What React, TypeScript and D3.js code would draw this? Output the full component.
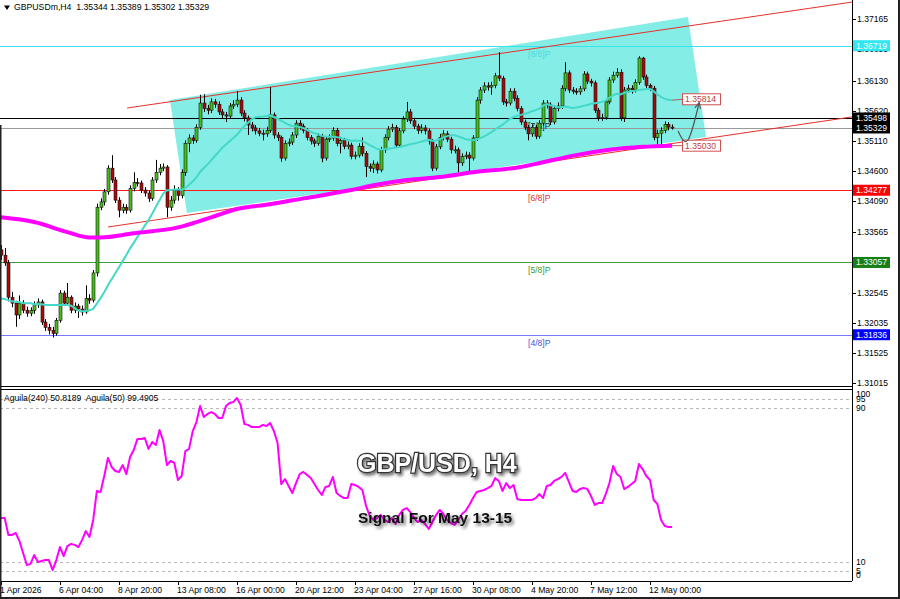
import React from 'react';
import * as d3 from 'd3';

// ---------- DATA ----------
const firstOpen = 1.3327;
const closes = [
  1.3318,1.3305,1.3247,1.3237,1.3217,1.3237,1.3225,1.3220,1.3225,1.3234,
  1.3239,1.3205,1.3196,1.3191,1.3186,1.3208,1.3254,1.3237,1.3247,1.3225,
  1.3232,1.3227,1.3222,1.3245,1.3242,1.3288,1.3399,1.3408,1.3425,1.3465,
  1.3445,1.3411,1.3394,1.3399,1.3394,1.3431,1.3441,1.3440,1.3428,1.3423,
  1.3414,1.3445,1.3458,1.3465,1.3467,1.3399,1.3411,1.3428,1.3419,1.3458,
  1.3507,1.3516,1.3512,1.3534,1.3575,1.3566,1.3563,1.3577,1.3573,1.3560,
  1.3555,1.3553,1.3570,1.3573,1.3580,1.3558,1.3550,1.3538,1.3533,1.3528,
  1.3524,1.3523,1.3529,1.3555,1.3521,1.3517,1.3482,1.3507,1.3509,1.3521,
  1.3541,1.3536,1.3529,1.3517,1.3511,1.3507,1.3519,1.3482,1.3514,1.3516,
  1.3529,1.3507,1.3512,1.3502,1.3504,1.3485,1.3487,1.3502,1.3490,1.3468,
  1.3465,1.3472,1.3462,1.3496,1.3517,1.3531,1.3534,1.3504,1.3528,1.3548,
  1.3560,1.3545,1.3536,1.3529,1.3533,1.3528,1.3511,1.3465,1.3501,1.3517,
  1.3523,1.3514,1.3496,1.3496,1.3474,1.3485,1.3487,1.3482,1.3516,1.3580,
  1.3597,1.3604,1.3602,1.3605,1.3621,1.3617,1.3577,1.3575,1.3595,1.3583,
  1.3566,1.3543,1.3534,1.3523,1.3534,1.3519,1.3541,1.3575,1.3572,1.3543,
  1.3566,1.3570,1.3600,1.3626,1.3597,1.3595,1.3594,1.3599,1.3624,1.3612,
  1.3609,1.3563,1.3550,1.3551,1.3577,1.3614,1.3622,1.3627,1.3550,1.3597,
  1.3600,1.3597,1.3610,1.3651,1.3619,1.3605,1.3600,1.3517,1.3524,1.3529,
  1.3539,1.35344,1.35329
];
const highs = [
  1.3335,1.3330,1.3310,1.3256,1.3241,1.3250,1.3242,1.3231,1.3230,1.3240,
  1.3245,1.3243,1.3210,1.3202,1.3197,1.3212,1.3259,1.3258,1.3271,1.3250,
  1.3238,1.3236,1.3233,1.3267,1.3252,1.3293,1.3405,1.3414,1.3430,1.3470,
  1.3487,1.3450,1.3416,1.3405,1.3404,1.3436,1.3458,1.3448,1.3444,1.3433,
  1.3428,1.3450,1.3479,1.3472,1.3473,1.3470,1.3418,1.3436,1.3433,1.3463,
  1.3512,1.3522,1.3521,1.3539,1.3589,1.3590,1.3572,1.3583,1.3582,1.3578,
  1.3565,1.3560,1.3575,1.3580,1.3595,1.3585,1.3563,1.3554,1.3543,1.3538,
  1.3533,1.3530,1.3535,1.3602,1.3559,1.3526,1.3520,1.3512,1.3515,1.3526,
  1.3546,1.3546,1.3540,1.3533,1.3521,1.3515,1.3524,1.3523,1.3519,1.3522,
  1.3534,1.3533,1.3518,1.3516,1.3510,1.3508,1.3493,1.3507,1.3517,1.3494,
  1.3473,1.3478,1.3476,1.3501,1.3522,1.3536,1.3540,1.3538,1.3533,1.3553,
  1.3577,1.3565,1.3550,1.3540,1.3539,1.3538,1.3532,1.3514,1.3506,1.3523,
  1.3529,1.3528,1.3518,1.3503,1.3500,1.3490,1.3493,1.3492,1.3521,1.3585,
  1.3602,1.3610,1.3610,1.3611,1.3626,1.3661,1.3621,1.3582,1.3600,1.3600,
  1.3588,1.3570,1.3547,1.3538,1.3539,1.3538,1.3546,1.3580,1.3580,1.3576,
  1.3571,1.3576,1.3605,1.3644,1.3630,1.3602,1.3600,1.3604,1.3629,1.3628,
  1.3616,1.3613,1.3567,1.3557,1.3582,1.3619,1.3628,1.3634,1.3632,1.3602,
  1.3606,1.3605,1.3615,1.3654,1.3653,1.3623,1.3608,1.3604,1.3530,1.3534,
  1.3544,1.3543,1.35389
];
const lows = [
  1.3310,1.3300,1.3240,1.3230,1.3197,1.3210,1.3220,1.3214,1.3215,1.3219,
  1.3229,1.3200,1.3190,1.3184,1.3179,1.3182,1.3204,1.3232,1.3233,1.3220,
  1.3220,1.3212,1.3216,1.3219,1.3236,1.3238,1.3282,1.3394,1.3402,1.3420,
  1.3440,1.3406,1.3382,1.3389,1.3388,1.3390,1.3426,1.3434,1.3423,1.3417,
  1.3408,1.3410,1.3440,1.3453,1.3460,1.3382,1.3393,1.3405,1.3410,1.3414,
  1.3452,1.3492,1.3506,1.3508,1.3530,1.3560,1.3556,1.3558,1.3567,1.3555,
  1.3549,1.3543,1.3549,1.3565,1.3568,1.3553,1.3544,1.3521,1.3527,1.3522,
  1.3519,1.3512,1.3518,1.3525,1.3515,1.3511,1.3476,1.3478,1.3502,1.3504,
  1.3516,1.3530,1.3524,1.3512,1.3505,1.3501,1.3503,1.3475,1.3478,1.3509,
  1.3511,1.3502,1.3490,1.3497,1.3497,1.3480,1.3480,1.3483,1.3485,1.3450,
  1.3459,1.3457,1.3456,1.3458,1.3491,1.3512,1.3526,1.3499,1.3500,1.3524,
  1.3543,1.3540,1.3531,1.3523,1.3524,1.3522,1.3505,1.3460,1.3461,1.3497,
  1.3512,1.3509,1.3490,1.3490,1.3458,1.3469,1.3480,1.3457,1.3478,1.3511,
  1.3574,1.3592,1.3596,1.3589,1.3600,1.3612,1.3572,1.3569,1.3571,1.3578,
  1.3561,1.3538,1.3529,1.3512,1.3518,1.3514,1.3515,1.3537,1.3566,1.3538,
  1.3539,1.3561,1.3565,1.3595,1.3592,1.3590,1.3589,1.3589,1.3595,1.3607,
  1.3603,1.3558,1.3545,1.3545,1.3547,1.3573,1.3609,1.3618,1.3545,1.3543,
  1.3592,1.3591,1.3593,1.3606,1.3614,1.3600,1.3595,1.3512,1.3501,1.3501,
  1.3524,1.3529,1.35302
];
// 20-period average values for the first bars (before 20 closes exist)
const fastMaHead = [
  1.3245,1.3244,1.3242,1.3240,1.3239,1.3239,1.3237,1.3237,1.3237,1.3235,
  1.3235,1.3235,1.3234,1.3234,1.3234,1.3234,1.3234,1.3234,1.3234
];
const fastMaPeriod = 20;
// long moving average (magenta), read at selected bars
const slowMaBars = [0,9,18,24,27,36,48,57,64,73,82,95,101,110,119,128,141,147,156,165,174,182];
const slowMaValues = [1.3382,1.3374,1.3357,1.3348,1.3348,1.3355,1.3365,1.3382,1.3396,1.3404,1.3414,1.3428,1.3436,1.3445,1.3450,1.3458,1.3467,1.3475,1.3487,1.3496,1.3501,1.3503];
// Aguila oscillator (magenta line in lower pane)
const aguila = [
  32.8,32.8,24.0,24.0,25.0,20.8,14.6,8.3,8.9,13.5,
  9.9,10.4,10.9,10.9,5.7,10.9,17.7,13.0,18.2,19.3,
  18.8,17.7,21.4,26.0,22.9,31.8,46.9,46.4,54.7,64.1,
  59.4,57.3,56.8,60.4,55.7,64.6,68.2,74.0,74.0,74.5,
  68.8,72.4,70.8,78.6,72.9,60.4,62.5,61.5,52.6,54.7,
  67.7,68.8,78.1,82.8,91.1,85.4,87.0,88.0,87.0,84.9,
  84.9,91.1,92.7,93.2,95.3,91.7,81.8,81.3,80.2,80.2,
  80.2,81.3,80.7,82.3,78.1,71.9,50.5,53.1,49.5,45.8,
  51.0,55.7,56.8,55.2,53.6,50.5,47.4,44.8,49.0,49.5,
  54.2,45.8,44.3,43.2,43.2,50.5,50.0,49.0,47.4,39.1,
  33.9,31.8,32.8,34.4,31.8,30.7,32.8,29.7,34.4,37.0,
  38.0,35.9,32.8,30.7,31.8,29.7,27.1,30.7,34.4,37.0,
  34.9,31.8,30.2,29.2,31.8,34.9,36.5,39.6,43.2,46.4,
  46.9,47.4,48.4,49.5,53.6,52.1,46.9,51.0,48.4,50.0,
  42.7,42.2,42.2,42.2,42.2,43.2,45.3,43.2,49.5,50.0,
  52.1,53.1,54.2,56.3,51.6,46.9,46.4,47.9,48.4,47.9,
  44.3,39.6,40.6,40.6,45.3,51.0,59.9,55.7,54.2,47.9,
  49.0,50.5,52.1,60.9,58.3,54.7,52.6,42.2,40.1,31.8,
  28.6,28.1,28.1
];
const priceTicks = [1.37165,1.36655,1.36130,1.35620,1.35110,1.34600,1.34090,1.33565,1.33055,1.32545,1.32035,1.31525,1.31015];
const dateTickBars = [0,16,32,48,64,80,96,112,128,144,160,176];
const dateLabels = ['1 Apr 2026','6 Apr 04:00','8 Apr 20:00','13 Apr 08:00','16 Apr 00:00','20 Apr 12:00','23 Apr 04:00','27 Apr 16:00','30 Apr 08:00','4 May 20:00','7 May 12:00','12 May 00:00'];
const murreyLevels = [1.36719,1.35498,1.34277,1.33057,1.31836];
const murreyNames = ['[8/8]P','[7/8]P','[6/8]P','[5/8]P','[4/8]P'];
const bidPrice = 1.35329;
const maLabelValues = [1.35814, 1.35030];
const channelBox = [{bar:45.8,price:1.35802},{bar:186.3,price:1.37204},{bar:191.2,price:1.35176},{bar:50.4,price:1.33892}];
const upperChannel = [{bar:34.2,price:1.35666},{bar:186.0,price:1.37048}];
const lowerChannel = [{bar:29.0,price:1.33656},{bar:191.2,price:1.35151}];
const arrowPath = [{bar:183.6,price:1.35278},{bar:186.3,price:1.35126},{bar:189.3,price:1.35751}];
const indLevels = [95,90,10,5];
const indLabels = [100,95,90,10,5,0];
const header = 'GBPUSDm,H4  1.35344 1.35389 1.35302 1.35329';
const indTitle = 'Aguila(240) 50.8189  Aguila(50) 99.4905';

// ---------- LAYOUT ----------
const W = 900, H = 599;
const PR = 852; // plot right edge
const MAIN_B = 386, SUB_T = 389, SUB_B = 581;
const FONT = '"Liberation Sans", Arial, sans-serif';

const murreyLine = ['#38E4EC','#000000','#FF1A1A','#3A9C3A','#7878FF'];
const murreyText = ['#4FD8DE','#222222','#E03030','#3A9C3A','#5050E0'];
const murreyBox = ['#30E6F0','#000000','#FF0000','#168016','#0000FF'];

export default function App() {
  const x = d3.scaleLinear().domain([0, 176]).range([1, 650]);
  const y = d3.scaleLinear().domain([1.30970, 1.37491]).range([MAIN_B, 0]);
  const yi = d3.scaleLinear().domain([0, 100]).range([SUB_B, SUB_T]);

  const opens = closes.map((c, i) => (i === 0 ? firstOpen : closes[i - 1]));
  const fastMa = closes.map((c, i) =>
    i < fastMaPeriod - 1 ? fastMaHead[i] : (d3.mean(closes.slice(i - fastMaPeriod + 1, i + 1)) as number)
  );

  const fastLine = d3.line<number>().x((d, i) => x(i)).y(d => y(d))(fastMa) || '';
  const slowLine = d3.line<number>().x((d, i) => x(slowMaBars[i])).y(d => y(d)).curve(d3.curveMonotoneX)(slowMaValues) || '';
  const indLine = d3.line<number>().x((d, i) => x(i)).y(d => yi(d))(aguila) || '';
  const boxPts = channelBox.map(p => `${x(p.bar)},${y(p.price)}`).join(' ');
  const arrowD = d3.line<{bar:number;price:number}>().x(d => x(d.bar)).y(d => y(d.price)).curve(d3.curveNatural)(arrowPath) || '';

  const ray = (pts: {bar:number;price:number}[]) => {
    const [a, b] = pts;
    const endBar = x.invert(PR);
    const slope = (b.price - a.price) / (b.bar - a.bar);
    return { x1: x(a.bar), y1: y(a.price), x2: PR, y2: y(a.price + slope * (endBar - a.bar)) };
  };
  const up = ray(upperChannel);
  const lo = ray(lowerChannel);

  const lastBar = closes.length - 1;

  const rightLabel = (price: number, bg: string, key: string) => (
    <g key={key}>
      <rect x={853} y={y(price) - 5.5} width={37} height={11} fill={bg} />
      <text x={856} y={y(price)} dy="0.35em" fontSize={8.6} fill="#fff" fontFamily={FONT}>{price.toFixed(5)}</text>
    </g>
  );

  return (
    <svg width={W} height={H} style={{ position: 'absolute', left: 0, top: 0, background: '#fff' }}>
      <defs>
        <clipPath id="mainClip"><rect x={0} y={0} width={PR} height={MAIN_B} /></clipPath>
        <clipPath id="subClip"><rect x={0} y={SUB_T} width={PR} height={SUB_B - SUB_T} /></clipPath>
        <filter id="shadow" x="-10%" y="-40%" width="130%" height="200%">
          <feDropShadow dx="2" dy="2.5" stdDeviation="1.6" floodColor="#000" floodOpacity="0.55" />
        </filter>
        <marker id="arr" viewBox="0 0 10 10" refX="8" refY="5" markerWidth="6" markerHeight="6" orient="auto-start-reverse">
          <path d="M0,1 L9,5 L0,9" fill="none" stroke="#555" strokeWidth={1.5} />
        </marker>
      </defs>
      <rect x={0} y={0} width={W} height={H} fill="#fff" />

      {/* ---------- main pane ---------- */}
      <g clipPath="url(#mainClip)">
        <polygon points={boxPts} fill="#84EEE6" />
        {murreyLevels.map((lv, k) => (
          <line key={'m' + k} x1={0} x2={PR} y1={Math.round(y(lv)) + 0.5} y2={Math.round(y(lv)) + 0.5} stroke={murreyLine[k]} strokeWidth={1} />
        ))}
        <line x1={0} x2={PR} y1={Math.round(y(bidPrice)) + 0.5} y2={Math.round(y(bidPrice)) + 0.5} stroke="#9a9a9a" strokeWidth={1} />
        {murreyLevels.map((lv, k) => (
          <text key={'mt' + k} x={528} y={y(lv) + 11} fontSize={8.6} fill={murreyText[k]} fontFamily={FONT}>{murreyNames[k]}</text>
        ))}
        <line {...up} stroke="#E8302A" strokeWidth={1} />
        <line {...lo} stroke="#E8302A" strokeWidth={1} />

        {closes.map((c, i) => {
          const o = opens[i];
          const cx = Math.round(x(i)) + 0.5;
          const yo = y(o), yc = y(c);
          const top = Math.min(yo, yc);
          const h = Math.max(1, Math.abs(yo - yc));
          const bull = c >= o;
          const hi = Math.max(highs[i], o, c), lw = Math.min(lows[i], o, c);
          return (
            <g key={'c' + i}>
              <line x1={cx} x2={cx} y1={y(hi)} y2={y(lw)} stroke="#000" strokeWidth={1} />
              <rect x={cx - 1.5} y={top} width={3} height={h} fill={bull ? '#45C01A' : '#A80A0A'} stroke="#111" strokeWidth={0.6} />
            </g>
          );
        })}

        <path d={fastLine} fill="none" stroke="#44D8C8" strokeWidth={2} />
        <path d={slowLine} fill="none" stroke="#FF00FF" strokeWidth={4} strokeLinejoin="round" />

        {/* MA value tags */}
        <line x1={x(lastBar)} y1={y(fastMa[lastBar])} x2={682} y2={y(maLabelValues[0])} stroke="#B05A5A" strokeWidth={1} />
        <line x1={x(lastBar)} y1={y(slowMaValues[slowMaValues.length - 1])} x2={682} y2={y(maLabelValues[1])} stroke="#B05A5A" strokeWidth={1} />
        {maLabelValues.map((v, k) => (
          <g key={'tag' + k}>
            <rect x={682.5} y={y(v) - 5.5} width={38} height={11} fill="#fff" stroke="#D05050" strokeWidth={1} />
            <text x={685} y={y(v)} dy="0.35em" fontSize={8.6} fill="#C04040" fontFamily={FONT}>{v.toFixed(5)}</text>
          </g>
        ))}
        <path d={arrowD} fill="none" stroke="#555" strokeWidth={1.2} markerEnd="url(#arr)" />
      </g>

      {/* header */}
      <polygon points="4,5.5 10,5.5 7,10" fill="#000" />
      <text x={14} y={9.8} fontSize={8.7} fontFamily={FONT} fill="#000" style={{ whiteSpace: 'pre' }}>{header}</text>

      {/* main pane frame & right axis */}
      <line x1={0} x2={PR} y1={MAIN_B + 0.5} y2={MAIN_B + 0.5} stroke="#000" />
      <line x1={PR + 0.5} x2={PR + 0.5} y1={0} y2={SUB_B} stroke="#000" />
      {priceTicks.map((p, k) => (
        <g key={'pt' + k}>
          <line x1={PR} x2={PR + 4} y1={Math.round(y(p)) + 0.5} y2={Math.round(y(p)) + 0.5} stroke="#000" />
          <text x={857} y={y(p)} dy="0.35em" fontSize={8.6} fill="#000" fontFamily={FONT}>{p.toFixed(5)}</text>
        </g>
      ))}
      {murreyLevels.map((lv, k) => rightLabel(lv, murreyBox[k], 'rl' + k))}
      {rightLabel(bidPrice, '#000', 'bid')}

      {/* ---------- indicator pane ---------- */}
      <line x1={0} x2={PR} y1={SUB_T + 0.5} y2={SUB_T + 0.5} stroke="#000" />
      <line x1={0} x2={PR} y1={SUB_B + 0.5} y2={SUB_B + 0.5} stroke="#000" />
      {indLevels.map(v => (
        <line key={'il' + v} x1={0} x2={PR} y1={Math.round(yi(v)) + 0.5} y2={Math.round(yi(v)) + 0.5} stroke="#B8B8B8" strokeDasharray="3,3" />
      ))}
      <g clipPath="url(#subClip)">
        <path d={indLine} fill="none" stroke="#FF00FF" strokeWidth={2} strokeLinejoin="round" />
      </g>
      <text x={4} y={400.5} fontSize={8.6} fontFamily={FONT} fill="#000" style={{ whiteSpace: 'pre' }}>{indTitle}</text>
      {indLabels.map(v => (
        <text key={'ilb' + v} x={856} y={Math.min(575, Math.max(394, yi(v)))} dy="0.35em" fontSize={8.6} fontFamily={FONT} fill="#000">{v}</text>
      ))}

      <text x={357} y={472} fontSize={25} fontWeight="bold" fontFamily={FONT} fill="#fff" stroke="#333" strokeWidth={2.4} paintOrder="stroke" filter="url(#shadow)">GBP/USD, H4</text>
      <text x={358} y={523} fontSize={15.5} fontWeight="bold" fontFamily={FONT} fill="#111" filter="url(#shadow)">Signal For May 13-15</text>

      {/* x axis */}
      {dateTickBars.map((b, k) => (
        <g key={'dt' + k}>
          <line x1={Math.round(x(b)) + 0.5} x2={Math.round(x(b)) + 0.5} y1={SUB_B} y2={SUB_B + 4} stroke="#000" />
          <text x={x(b) - 1} y={592.5} fontSize={8.6} fontFamily={FONT} fill="#000">{dateLabels[k]}</text>
        </g>
      ))}

      {/* outer frame */}
      <rect x={0} y={125} width={1.5} height={H - 125} fill="#222" />
      <rect x={898} y={0} width={2} height={H} fill="#222" />
      <rect x={0} y={597} width={W} height={2} fill="#222" />
    </svg>
  );
}
